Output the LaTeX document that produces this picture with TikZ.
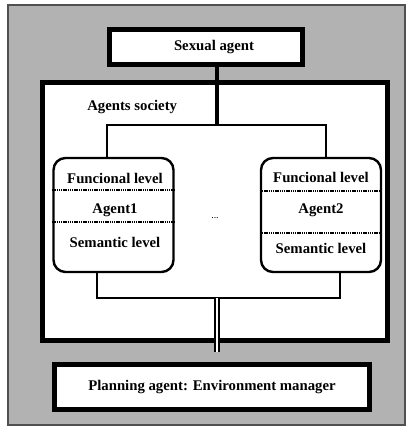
\documentclass[tikz,border=0pt]{standalone}
\usepackage{fontspec}
\setmainfont{Liberation Serif}
\definecolor{framegray}{RGB}{178,178,178}
\definecolor{framedark}{RGB}{80,80,80}

\begin{document}
\begin{tikzpicture}
  [x=0.25mm, y=-0.25mm,
    every node/.style={font=\fontsize{10.5}{12}\selectfont\bfseries, inner sep=0pt},
    box/.style={draw=black, fill=white, line width=1.25mm},
    agentbox/.style={draw=black, fill=white, line width=0.6mm, rounded corners=3mm,
      minimum width=30mm, minimum height=28.5mm},
    wire/.style={line width=0.6mm},
    trunk/.style={line width=1mm},
    dotline/.style={line width=0.55mm, dash pattern=on 0.35mm off 0.2mm},
]
  \useasboundingbox (0,0) rectangle (413,429);
  \draw[fill=framegray, draw=framedark, line width=0.3mm] (8,5) rectangle (405,425);

  \node[box, minimum width=48.25mm, minimum height=8.75mm] (sexual) at (206,47)
    {\hspace*{4mm}Sexual agent};
  \node[box, minimum width=86.25mm, minimum height=64.5mm] (society) at (215,211.5) {};
  \node[anchor=west] (societylabel) at (87,107) {Agents society};
  \node[box, minimum width=78.75mm, minimum height=11.25mm] (planning) at (212,387)
    {Planning agent: Environment manager};

  % agents
  \node[agentbox] (agent1) at (113.5,215) {};
  \node[agentbox] (agent2) at (321,215) {};
  \node (func1) at (115,178) {Funcional level};
  \node (name1) at (115,210) {Agent1};
  \node (sem1) at (115,242) {Semantic level};
  \node (func2) at (321,177) {Funcional level};
  \node (name2) at (321,210) {Agent2};
  \node (sem2) at (321,248) {Semantic level};
  \node[font=\fontsize{7}{8}\selectfont] (dots) at (215,218) {...};

  \draw[dotline] (agent1.west |- 0,190) -- (agent1.east |- 0,190);
  \draw[dotline] (agent1.west |- 0,222) -- (agent1.east |- 0,222);
  \draw[dotline] (agent2.west |- 0,191) -- (agent2.east |- 0,191);
  \draw[dotline] (agent2.west |- 0,233) -- (agent2.east |- 0,233);

  % connectors
  \coordinate (split) at (217,125);
  \coordinate (s1) at (107,125);
  \coordinate (s2) at (326,125);
  \coordinate (j1) at (97,298);
  \coordinate (j2) at (340,298);
  \coordinate (merge) at (217,298);
  \coordinate (mergeend) at (217,352);

  \draw[trunk] (split |- sexual.south) -- (split);
  \draw[wire] (s1 |- agent1.north) -- (s1) -- (s2) -- (s2 |- agent2.north);
  \draw[wire] (j1 |- agent1.south) -- (j1) -- (j2) -- (j2 |- agent2.south);
  \draw[double, line width=0.65mm, double distance=0.35mm] (merge) -- (mergeend);
\end{tikzpicture}
\end{document}
